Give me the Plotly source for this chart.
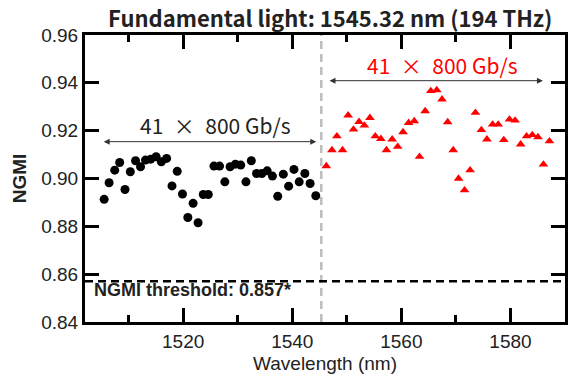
import plotly.graph_objects as go

# ---- data ----
wl_left = [1505.51, 1506.42, 1507.45, 1508.36, 1509.33, 1510.31, 1511.27, 1512.18, 1513.09, 1514.05,
           1515.04, 1516.00, 1516.96, 1517.95, 1518.91, 1519.87, 1520.85, 1521.82, 1522.73, 1523.69,
           1524.60, 1525.64, 1526.67, 1527.64, 1528.60, 1529.58, 1530.55, 1531.51, 1532.49, 1533.45,
           1534.42, 1535.40, 1536.36, 1537.33, 1538.36, 1539.33, 1540.31, 1541.27, 1542.31, 1543.27,
           1544.31]
ngmi_left = [0.8913, 0.8982, 0.9035, 0.9067, 0.8954, 0.9028, 0.9074, 0.9049, 0.9077, 0.9081,
             0.9091, 0.9070, 0.9084, 0.8969, 0.9030, 0.8935, 0.8837, 0.8896, 0.8815, 0.8933,
             0.8933, 0.9052, 0.9052, 0.8986, 0.9049, 0.9060, 0.9056, 0.8986, 0.9074, 0.9021,
             0.9021, 0.9032, 0.9010, 0.8926, 0.9018, 0.8968, 0.9038, 0.8986, 0.9021, 0.8979,
             0.8928]

wl_right = [1546.24, 1547.27, 1548.18, 1549.22, 1550.24, 1551.22, 1552.24, 1553.22, 1554.24, 1555.22,
            1556.24, 1557.27, 1558.31, 1559.33, 1560.31, 1561.33, 1562.36, 1563.33, 1564.36, 1565.40,
            1566.49, 1567.45, 1568.49, 1569.51, 1570.49, 1571.58, 1572.60, 1573.58, 1574.67, 1575.69,
            1576.73, 1577.76, 1578.78, 1579.82, 1580.85, 1581.87, 1582.96, 1584.00, 1585.04, 1586.05,
            1587.15]
ngmi_right = [0.9052, 0.9119, 0.9177, 0.9119, 0.9264, 0.9205, 0.9237, 0.9222, 0.9254, 0.9177,
              0.9166, 0.9119, 0.9164, 0.9133, 0.9194, 0.9233, 0.9240, 0.9091, 0.9282, 0.9366,
              0.9370, 0.9331, 0.9236, 0.9119, 0.9000, 0.8951, 0.9035, 0.9275, 0.9203, 0.9164,
              0.9226, 0.9226, 0.9161, 0.9247, 0.9243, 0.9143, 0.9177, 0.9182, 0.9173, 0.9059,
              0.9156]

fundamental_wl = 1545.32
threshold = 0.857
x_range = [1502, 1590]
y_range = [0.84, 0.96]
y_ticks = [0.84, 0.86, 0.88, 0.90, 0.92, 0.94, 0.96]
x_ticks = [1520, 1540, 1560, 1580]

left_arrow = [1505.15, 1544.4, 0.9154]
right_arrow = [1546.55, 1585.95, 0.9409]
left_label = [1525.95, 0.9223]
right_label = [1567.45, 0.9474]
thr_label = [1503.2, 0.8533]

label_text = "41\u2002×\u2002800 Gb/s"
title_text = "Fundamental light: 1545.32 nm (194 THz)"
thr_text = "NGMI threshold: 0.857*"

ARIAL = "Liberation Sans, Arial, sans-serif"
CJK = "Noto Sans CJK JP, sans-serif"

fig = go.Figure()

# vertical fundamental line
fig.add_trace(go.Scatter(x=[fundamental_wl, fundamental_wl], y=y_range, mode="lines",
                         line=dict(color="#BDBDBD", width=2.5, dash="8px,5px"),
                         hoverinfo="skip", showlegend=False))
# threshold line
fig.add_trace(go.Scatter(x=x_range, y=[threshold, threshold], mode="lines",
                         line=dict(color="black", width=2.5, dash="8px,5px"),
                         hoverinfo="skip", showlegend=False))

fig.add_trace(go.Scatter(x=wl_left, y=ngmi_left, mode="markers",
                         marker=dict(symbol="circle", size=9, color="black"),
                         showlegend=False))
fig.add_trace(go.Scatter(x=wl_right, y=ngmi_right, mode="markers",
                         marker=dict(symbol="triangle-up", size=8.5, color="#FF0000"),
                         showlegend=False))

# double-headed arrows
for arr in (left_arrow, right_arrow):
    fig.add_annotation(x=arr[1], y=arr[2], ax=arr[0], ay=arr[2], xref="x", yref="y",
                       axref="x", ayref="y", text="", showarrow=True,
                       arrowhead=2, arrowside="end+start", arrowsize=1.2, arrowwidth=1,
                       arrowcolor="#333333", standoff=0, startstandoff=0)

fig.add_annotation(x=left_label[0], y=left_label[1], xref="x", yref="y", text=label_text,
                   showarrow=False, font=dict(family=CJK, size=21, color="#222222"),
                   xanchor="center", yanchor="middle")
fig.add_annotation(x=right_label[0], y=right_label[1], xref="x", yref="y", text=label_text,
                   showarrow=False, font=dict(family=CJK, size=21, color="#FF0000"),
                   xanchor="center", yanchor="middle")
fig.add_annotation(x=thr_label[0], y=thr_label[1], xref="x", yref="y", text="<b>" + thr_text + "</b>",
                   showarrow=False, font=dict(family=ARIAL, size=18, color="#222222"),
                   xanchor="left", yanchor="middle")

# title as a paper annotation so its box stays inside the page
fig.add_annotation(x=332, y=17, xref="paper", yref="paper", text="<b>" + title_text + "</b>",
                   showarrow=False, font=dict(family=CJK, size=22, color="#222222"),
                   xanchor="center", yanchor="middle")

fig.update_layout(
    width=575, height=384,
    margin=dict(l=85, r=7, t=35, b=62),
    paper_bgcolor="white", plot_bgcolor="white",
    font=dict(family=ARIAL, color="black"),
)
# convert the title annotation's pixel coords into paper fractions
pw, ph = 575 - 85 - 7, 384 - 35 - 62
ann = fig.layout.annotations[-1]
ann.x = (332 - 85) / pw
ann.y = 1 + (35 - 17) / ph

fig.update_xaxes(range=x_range, tickvals=x_ticks, ticks="inside", ticklen=14, tickwidth=3,
                 tickcolor="black", showline=True, linewidth=3, linecolor="black", mirror="allticks",
                 showgrid=False, zeroline=False,
                 minor=dict(dtick=10, tick0=1500, ticks="inside", ticklen=7, tickwidth=3, tickcolor="black"),
                 tickfont=dict(family=ARIAL, size=19, color="#222222"),
                 title=dict(text="Wavelength (nm)", font=dict(family=ARIAL, size=19, color="#222222"),
                            standoff=6))
fig.update_yaxes(range=y_range, tickvals=y_ticks, tickformat=".2f", ticks="inside", ticklen=14,
                 tickwidth=3, tickcolor="black", showline=True, linewidth=3, linecolor="black",
                 mirror="allticks", showgrid=False, zeroline=False,
                 tickfont=dict(family=ARIAL, size=19, color="#222222"),
                 title=dict(text="<b>NGMI</b>", font=dict(family=ARIAL, size=19, color="#222222"),
                            standoff=10))

fig.write_html("out.html")
